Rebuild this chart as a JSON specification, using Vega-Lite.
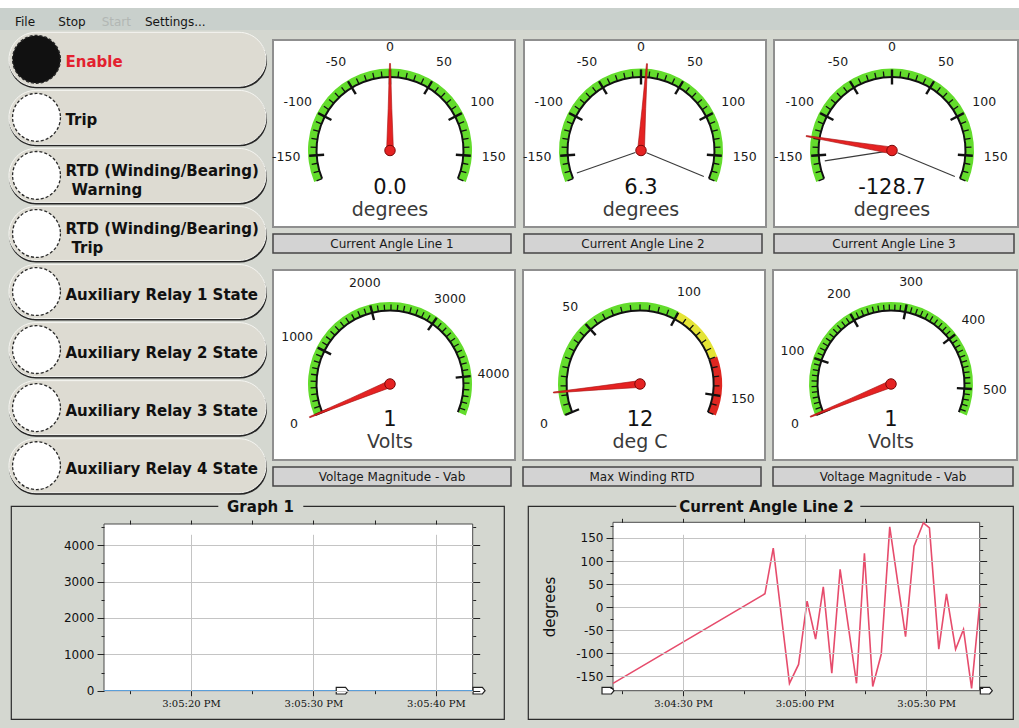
{
"$schema":"https://vega.github.io/schema/vega-lite/v6.json",
"background":"#d4d7d0",
"padding":{"left":0,"top":0,"right":0,"bottom":8},
"config":{"view":{"stroke":null},"font":"DejaVu Sans"},
"datasets":{
"buttons":[
{"id":1,"n":1,"label":"Enable","l2":"","lamp":"#111111","tc":"#e3212f"},
{"id":2,"n":1,"label":"Trip","l2":"","lamp":"#ffffff","tc":"#111111"},
{"id":3,"n":2,"label":"RTD (Winding/Bearing)","l2":"Warning","lamp":"#ffffff","tc":"#111111"},
{"id":4,"n":2,"label":"RTD (Winding/Bearing)","l2":"Trip","lamp":"#ffffff","tc":"#111111"},
{"id":5,"n":1,"label":"Auxiliary Relay 1 State","l2":"","lamp":"#ffffff","tc":"#111111"},
{"id":6,"n":1,"label":"Auxiliary Relay 2 State","l2":"","lamp":"#ffffff","tc":"#111111"},
{"id":7,"n":1,"label":"Auxiliary Relay 3 State","l2":"","lamp":"#ffffff","tc":"#111111"},
{"id":8,"n":1,"label":"Auxiliary Relay 4 State","l2":"","lamp":"#ffffff","tc":"#111111"}
],
"gauge":[
{"g":1,"k":"band","v":-180,"v2":180,"c":"#63dc2c"},
{"g":1,"k":"minor","v":[-180,-170,-160,-150,-140,-130,-120,-110,-100,-90,-80,-70,-60,-50,-40,-30,-20,-10,0,10,20,30,40,50,60,70,80,90,100,110,120,130,140,150,160,170,180]},
{"g":1,"k":"major","v":[-150,-100,-50,0,50,100,150],"t":["-150","-100","-50","0","50","100","150"]},
{"g":1,"k":"needle","v":0},
{"g":1,"k":"val","t":"0.0"},
{"g":1,"k":"unit","t":"degrees"},
{"g":2,"k":"band","v":-180,"v2":180,"c":"#63dc2c"},
{"g":2,"k":"minor","v":[-180,-170,-160,-150,-140,-130,-120,-110,-100,-90,-80,-70,-60,-50,-40,-30,-20,-10,0,10,20,30,40,50,60,70,80,90,100,110,120,130,140,150,160,170,180]},
{"g":2,"k":"major","v":[-150,-100,-50,0,50,100,150],"t":["-150","-100","-50","0","50","100","150"]},
{"g":2,"k":"mm","v":-175},
{"g":2,"k":"mm","v":180},
{"g":2,"k":"needle","v":6.3},
{"g":2,"k":"val","t":"6.3"},
{"g":2,"k":"unit","t":"degrees"},
{"g":3,"k":"band","v":-180,"v2":180,"c":"#63dc2c"},
{"g":3,"k":"minor","v":[-180,-170,-160,-150,-140,-130,-120,-110,-100,-90,-80,-70,-60,-50,-40,-30,-20,-10,0,10,20,30,40,50,60,70,80,90,100,110,120,130,140,150,160,170,180]},
{"g":3,"k":"major","v":[-150,-100,-50,0,50,100,150],"t":["-150","-100","-50","0","50","100","150"]},
{"g":3,"k":"mm","v":-158},
{"g":3,"k":"mm","v":180},
{"g":3,"k":"needle","v":-128.7},
{"g":3,"k":"val","t":"-128.7"},
{"g":3,"k":"unit","t":"degrees"},
{"g":4,"k":"band","v":0,"v2":4570,"c":"#63dc2c"},
{"g":4,"k":"minor","v":[0,100,200,300,400,500,600,700,800,900,1000,1100,1200,1300,1400,1500,1600,1700,1800,1900,2000,2100,2200,2300,2400,2500,2600,2700,2800,2900,3000,3100,3200,3300,3400,3500,3600,3700,3800,3900,4000,4100,4200,4300,4400,4500]},
{"g":4,"k":"major","v":[0,1000,2000,3000,4000],"t":["0","1000","2000","3000","4000"]},
{"g":4,"k":"needle","v":1},
{"g":4,"k":"val","t":"1"},
{"g":4,"k":"unit","t":"Volts"},
{"g":5,"k":"band","v":0,"v2":100,"c":"#63dc2c"},
{"g":5,"k":"band","v":100,"v2":130,"c":"#e4e436"},
{"g":5,"k":"band","v":130,"v2":160,"c":"#df2620"},
{"g":5,"k":"minor","v":[0,5,10,15,20,25,30,35,40,45,50,55,60,65,70,75,80,85,90,95,100,105,110,115,120,125,130,135,140,145,150,155,160]},
{"g":5,"k":"major","v":[0,50,100,150],"t":["0","50","100","150"]},
{"g":5,"k":"needle","v":12},
{"g":5,"k":"val","t":"12"},
{"g":5,"k":"unit","t":"deg C"},
{"g":6,"k":"band","v":0,"v2":546,"c":"#63dc2c"},
{"g":6,"k":"minor","v":[0,10,20,30,40,50,60,70,80,90,100,110,120,130,140,150,160,170,180,190,200,210,220,230,240,250,260,270,280,290,300,310,320,330,340,350,360,370,380,390,400,410,420,430,440,450,460,470,480,490,500,510,520,530,540]},
{"g":6,"k":"major","v":[0,100,200,300,400,500],"t":["0","100","200","300","400","500"]},
{"g":6,"k":"needle","v":1},
{"g":6,"k":"val","t":"1"},
{"g":6,"k":"unit","t":"Volts"}
],
"g1line":[
{"t":"2000-01-01T15:05:12.900","v":0},
{"t":"2000-01-01T15:05:43.400","v":0}
],
"g2line":[
{"t":"2000-01-01T15:04:12.700","v":-165},
{"t":"2000-01-01T15:04:50.200","v":29},
{"t":"2000-01-01T15:04:52.250","v":128},
{"t":"2000-01-01T15:04:56.250","v":-165},
{"t":"2000-01-01T15:04:58.500","v":-124},
{"t":"2000-01-01T15:05:00.600","v":13},
{"t":"2000-01-01T15:05:02.700","v":-69},
{"t":"2000-01-01T15:05:04.600","v":44},
{"t":"2000-01-01T15:05:06.700","v":-143},
{"t":"2000-01-01T15:05:08.750","v":82},
{"t":"2000-01-01T15:05:12.800","v":-165},
{"t":"2000-01-01T15:05:14.750","v":117},
{"t":"2000-01-01T15:05:16.800","v":-172},
{"t":"2000-01-01T15:05:18.900","v":-102},
{"t":"2000-01-01T15:05:21.000","v":174},
{"t":"2000-01-01T15:05:24.900","v":-64},
{"t":"2000-01-01T15:05:27.000","v":132},
{"t":"2000-01-01T15:05:29.300","v":183},
{"t":"2000-01-01T15:05:30.800","v":172},
{"t":"2000-01-01T15:05:33.100","v":-91},
{"t":"2000-01-01T15:05:35.000","v":29},
{"t":"2000-01-01T15:05:37.250","v":-91},
{"t":"2000-01-01T15:05:39.200","v":-48},
{"t":"2000-01-01T15:05:41.200","v":-176},
{"t":"2000-01-01T15:05:43.200","v":8}
]
},
"spacing":0,
"resolve":{"scale":{"angle":"independent","theta":"independent"}},
"vconcat":[
{"width":1019,"height":8,"view":{"fill":"#ffffff"},"data":{"values":[{}]},"mark":{"type":"point","size":0,"opacity":0},"encoding":{}},
{"width":1019,"height":22,"view":{"fill":"#c9d0cc"},
 "data":{"values":[{"m":"File","c":"#151515"},{"m":"Stop","c":"#151515"},{"m":"Start","c":"#b2b7b4"},{"m":"Settings...","c":"#151515"}]},
 "mark":{"type":"text","align":"left","baseline":"middle","fontSize":12,"yOffset":2.5},
 "encoding":{"x":{"field":"m","type":"nominal","sort":null,"axis":null,"scale":{"type":"point","range":[15,145],"padding":0}},
   "text":{"field":"m"},
   "color":{"field":"c","type":"nominal","scale":null}}},
{"spacing":0,"resolve":{"scale":{"angle":"independent","theta":"independent"}},"hconcat":[
 {"width":8,"height":1,"data":{"values":[{}]},"mark":{"type":"point","size":0,"opacity":0},"encoding":{}},
 {"width":257,"height":465,"data":{"name":"buttons"},
  "encoding":{"y":{"field":"id","type":"ordinal","axis":null,"scale":{"paddingInner":0.07,"paddingOuter":0.04}}},
  "layer":[
   {"mark":{"type":"bar","color":"#262626","cornerRadius":27,"yOffset":2,"xOffset":1}},
   {"mark":{"type":"bar","color":"#dddbd2","cornerRadius":27,"stroke":"#f6f6f2","strokeWidth":1}},
   {"mark":{"type":"point","shape":"circle","size":2290,"filled":true,"opacity":1,"stroke":"#2a2a2a","strokeWidth":1.3,"strokeDash":[3,2],"xOffset":-101},
    "encoding":{"color":{"field":"lamp","type":"nominal","scale":null}}},
   {"transform":[{"filter":"datum.n == 1"}],"mark":{"type":"text","align":"left","baseline":"middle","fontWeight":"bold","fontSize":15,"xOffset":-72,"yOffset":3},
    "encoding":{"text":{"field":"label"},"color":{"field":"tc","type":"nominal","scale":null}}},
   {"transform":[{"filter":"datum.n == 2"}],"mark":{"type":"text","align":"left","baseline":"middle","fontWeight":"bold","fontSize":15,"xOffset":-72,"yOffset":-4},
    "encoding":{"text":{"field":"label"},"color":{"field":"tc","type":"nominal","scale":null}}},
   {"transform":[{"filter":"datum.n == 2"}],"mark":{"type":"text","align":"left","baseline":"middle","fontWeight":"bold","fontSize":15,"xOffset":-66,"yOffset":14.5},
    "encoding":{"text":{"field":"l2"},"color":{"field":"tc","type":"nominal","scale":null}}}
  ]},
 {"width":4,"height":1,"data":{"values":[{}]},"mark":{"type":"point","size":0,"opacity":0},"encoding":{}},
 {"spacing":15,"resolve":{"scale":{"angle":"independent","theta":"independent"}},"vconcat":[
  {"spacing":7,"resolve":{"scale":{"angle":"independent","theta":"independent"}},"vconcat":[
   {"width":1,"height":2,"data":{"values":[{}]},"mark":{"type":"point","size":0,"opacity":0},"encoding":{}},
   {"spacing":6,"resolve":{"scale":{"angle":"independent","theta":"independent"}},"hconcat":[
    {"spacing":5,"resolve":{"scale":{"angle":"independent","theta":"independent"}},"vconcat":[
     {"width":242,"height":187,"view":{"fill":"#ffffff","stroke":"#8f8f8f","strokeWidth":2},"data":{"name":"gauge"},"transform":[{"filter":"datum.g == 1"}],
      "layer":[
       {"transform":[{"filter":"datum.k == 'band'"}],"mark":{"type":"arc","radius":82,"radius2":74,"xOffset":-4,"yOffset":17},"encoding":{"theta":{"field":"v","type":"quantitative","stack":null,"scale":{"domain":[-180,180],"range":[-1.9635,1.9635],"nice":false,"zero":false}},"theta2":{"field":"v2"},"color":{"field":"c","type":"nominal","scale":null}}},
       {"transform":[{"filter":"datum.k == 'band'"}],"mark":{"type":"arc","radius":74.5,"radius2":72.5,"color":"#111111","xOffset":-4,"yOffset":17},"encoding":{"theta":{"field":"v","type":"quantitative","stack":null,"scale":{"domain":[-180,180],"range":[-1.9635,1.9635],"nice":false,"zero":false}},"theta2":{"field":"v2"}}},
       {"transform":[{"filter":"datum.k == 'minor'"},{"flatten":["v"]}],"mark":{"type":"point","shape":"M 0 -0.735 L 0 -0.795","size":40000,"filled":false,"opacity":1,"color":"#111111","strokeWidth":1.3,"xOffset":-4,"yOffset":17},"encoding":{"angle":{"field":"v","type":"quantitative","scale":{"domain":[-180,180],"range":[-112.5,112.5],"nice":false,"zero":false}}}},
       {"transform":[{"filter":"datum.k == 'major'"},{"flatten":["v","t"]}],"mark":{"type":"point","shape":"M 0 -0.66 L 0 -0.81","size":40000,"filled":false,"opacity":1,"color":"#111111","strokeWidth":2.4,"xOffset":-4,"yOffset":17},"encoding":{"angle":{"field":"v","type":"quantitative","scale":{"domain":[-180,180],"range":[-112.5,112.5],"nice":false,"zero":false}}}},
       {"transform":[{"filter":"datum.k == 'major'"},{"flatten":["v","t"]}],"mark":{"type":"text","radius":104,"fontSize":12.5,"color":"#1a1a1a","align":"center","baseline":"middle","xOffset":-4,"yOffset":17},"encoding":{"theta":{"field":"v","type":"quantitative","stack":null,"scale":{"domain":[-180,180],"range":[-1.9635,1.9635],"nice":false,"zero":false}},"text":{"field":"t"}}},
       {"transform":[{"filter":"datum.k == 'mm'"}],"mark":{"type":"point","shape":"M 0 -0.06 L 0 -0.68","size":40000,"filled":false,"opacity":1,"color":"#3a3a3a","strokeWidth":1.1,"xOffset":-4,"yOffset":17},"encoding":{"angle":{"field":"v","type":"quantitative","scale":{"domain":[-180,180],"range":[-112.5,112.5],"nice":false,"zero":false}}}},
       {"transform":[{"filter":"datum.k == 'needle'"}],"mark":{"type":"point","shape":"M -0.035 0.02 L -0.018 -0.42 L -0.005 -0.87 L 0.005 -0.87 L 0.018 -0.42 L 0.035 0.02 Z","size":40000,"filled":true,"opacity":1,"color":"#e52222","stroke":"#a51212","strokeWidth":0.6,"xOffset":-4,"yOffset":17},"encoding":{"angle":{"field":"v","type":"quantitative","scale":{"domain":[-180,180],"range":[-112.5,112.5],"nice":false,"zero":false}}}},
       {"transform":[{"filter":"datum.k == 'needle'"}],"mark":{"type":"point","shape":"circle","size":110,"filled":true,"opacity":1,"color":"#e52222","stroke":"#7a0a0a","strokeWidth":1,"xOffset":-4,"yOffset":17},"encoding":{}},
       {"transform":[{"filter":"datum.k == 'val'"}],"mark":{"type":"text","fontSize":21,"color":"#111111","baseline":"middle","xOffset":-4,"yOffset":54},"encoding":{"text":{"field":"t"}}},
       {"transform":[{"filter":"datum.k == 'unit'"}],"mark":{"type":"text","fontSize":19,"color":"#3a3a3a","baseline":"middle","xOffset":-4,"yOffset":76},"encoding":{"text":{"field":"t"}}}
      ]},
     {"width":238,"height":19,"view":{"fill":"#d3d3d3","stroke":"#454545","strokeWidth":1.5},"data":{"values":[{"t":"Current Angle Line 1"}]},"mark":{"type":"text","fontSize":12,"color":"#1a1a1a","baseline":"middle"},"encoding":{"text":{"field":"t"}}}
    ]},
    {"spacing":5,"resolve":{"scale":{"angle":"independent","theta":"independent"}},"vconcat":[
     {"width":242,"height":187,"view":{"fill":"#ffffff","stroke":"#8f8f8f","strokeWidth":2},"data":{"name":"gauge"},"transform":[{"filter":"datum.g == 2"}],
      "layer":[
       {"transform":[{"filter":"datum.k == 'band'"}],"mark":{"type":"arc","radius":82,"radius2":74,"xOffset":-4,"yOffset":17},"encoding":{"theta":{"field":"v","type":"quantitative","stack":null,"scale":{"domain":[-180,180],"range":[-1.9635,1.9635],"nice":false,"zero":false}},"theta2":{"field":"v2"},"color":{"field":"c","type":"nominal","scale":null}}},
       {"transform":[{"filter":"datum.k == 'band'"}],"mark":{"type":"arc","radius":74.5,"radius2":72.5,"color":"#111111","xOffset":-4,"yOffset":17},"encoding":{"theta":{"field":"v","type":"quantitative","stack":null,"scale":{"domain":[-180,180],"range":[-1.9635,1.9635],"nice":false,"zero":false}},"theta2":{"field":"v2"}}},
       {"transform":[{"filter":"datum.k == 'minor'"},{"flatten":["v"]}],"mark":{"type":"point","shape":"M 0 -0.735 L 0 -0.795","size":40000,"filled":false,"opacity":1,"color":"#111111","strokeWidth":1.3,"xOffset":-4,"yOffset":17},"encoding":{"angle":{"field":"v","type":"quantitative","scale":{"domain":[-180,180],"range":[-112.5,112.5],"nice":false,"zero":false}}}},
       {"transform":[{"filter":"datum.k == 'major'"},{"flatten":["v","t"]}],"mark":{"type":"point","shape":"M 0 -0.66 L 0 -0.81","size":40000,"filled":false,"opacity":1,"color":"#111111","strokeWidth":2.4,"xOffset":-4,"yOffset":17},"encoding":{"angle":{"field":"v","type":"quantitative","scale":{"domain":[-180,180],"range":[-112.5,112.5],"nice":false,"zero":false}}}},
       {"transform":[{"filter":"datum.k == 'major'"},{"flatten":["v","t"]}],"mark":{"type":"text","radius":104,"fontSize":12.5,"color":"#1a1a1a","align":"center","baseline":"middle","xOffset":-4,"yOffset":17},"encoding":{"theta":{"field":"v","type":"quantitative","stack":null,"scale":{"domain":[-180,180],"range":[-1.9635,1.9635],"nice":false,"zero":false}},"text":{"field":"t"}}},
       {"transform":[{"filter":"datum.k == 'mm'"}],"mark":{"type":"point","shape":"M 0 -0.06 L 0 -0.68","size":40000,"filled":false,"opacity":1,"color":"#3a3a3a","strokeWidth":1.1,"xOffset":-4,"yOffset":17},"encoding":{"angle":{"field":"v","type":"quantitative","scale":{"domain":[-180,180],"range":[-112.5,112.5],"nice":false,"zero":false}}}},
       {"transform":[{"filter":"datum.k == 'needle'"}],"mark":{"type":"point","shape":"M -0.035 0.02 L -0.018 -0.42 L -0.005 -0.87 L 0.005 -0.87 L 0.018 -0.42 L 0.035 0.02 Z","size":40000,"filled":true,"opacity":1,"color":"#e52222","stroke":"#a51212","strokeWidth":0.6,"xOffset":-4,"yOffset":17},"encoding":{"angle":{"field":"v","type":"quantitative","scale":{"domain":[-180,180],"range":[-112.5,112.5],"nice":false,"zero":false}}}},
       {"transform":[{"filter":"datum.k == 'needle'"}],"mark":{"type":"point","shape":"circle","size":110,"filled":true,"opacity":1,"color":"#e52222","stroke":"#7a0a0a","strokeWidth":1,"xOffset":-4,"yOffset":17},"encoding":{}},
       {"transform":[{"filter":"datum.k == 'val'"}],"mark":{"type":"text","fontSize":21,"color":"#111111","baseline":"middle","xOffset":-4,"yOffset":54},"encoding":{"text":{"field":"t"}}},
       {"transform":[{"filter":"datum.k == 'unit'"}],"mark":{"type":"text","fontSize":19,"color":"#3a3a3a","baseline":"middle","xOffset":-4,"yOffset":76},"encoding":{"text":{"field":"t"}}}
      ]},
     {"width":238,"height":19,"view":{"fill":"#d3d3d3","stroke":"#454545","strokeWidth":1.5},"data":{"values":[{"t":"Current Angle Line 2"}]},"mark":{"type":"text","fontSize":12,"color":"#1a1a1a","baseline":"middle"},"encoding":{"text":{"field":"t"}}}
    ]},
    {"spacing":5,"resolve":{"scale":{"angle":"independent","theta":"independent"}},"vconcat":[
     {"width":244,"height":187,"view":{"fill":"#ffffff","stroke":"#8f8f8f","strokeWidth":2},"data":{"name":"gauge"},"transform":[{"filter":"datum.g == 3"}],
      "layer":[
       {"transform":[{"filter":"datum.k == 'band'"}],"mark":{"type":"arc","radius":82,"radius2":74,"xOffset":-4,"yOffset":17},"encoding":{"theta":{"field":"v","type":"quantitative","stack":null,"scale":{"domain":[-180,180],"range":[-1.9635,1.9635],"nice":false,"zero":false}},"theta2":{"field":"v2"},"color":{"field":"c","type":"nominal","scale":null}}},
       {"transform":[{"filter":"datum.k == 'band'"}],"mark":{"type":"arc","radius":74.5,"radius2":72.5,"color":"#111111","xOffset":-4,"yOffset":17},"encoding":{"theta":{"field":"v","type":"quantitative","stack":null,"scale":{"domain":[-180,180],"range":[-1.9635,1.9635],"nice":false,"zero":false}},"theta2":{"field":"v2"}}},
       {"transform":[{"filter":"datum.k == 'minor'"},{"flatten":["v"]}],"mark":{"type":"point","shape":"M 0 -0.735 L 0 -0.795","size":40000,"filled":false,"opacity":1,"color":"#111111","strokeWidth":1.3,"xOffset":-4,"yOffset":17},"encoding":{"angle":{"field":"v","type":"quantitative","scale":{"domain":[-180,180],"range":[-112.5,112.5],"nice":false,"zero":false}}}},
       {"transform":[{"filter":"datum.k == 'major'"},{"flatten":["v","t"]}],"mark":{"type":"point","shape":"M 0 -0.66 L 0 -0.81","size":40000,"filled":false,"opacity":1,"color":"#111111","strokeWidth":2.4,"xOffset":-4,"yOffset":17},"encoding":{"angle":{"field":"v","type":"quantitative","scale":{"domain":[-180,180],"range":[-112.5,112.5],"nice":false,"zero":false}}}},
       {"transform":[{"filter":"datum.k == 'major'"},{"flatten":["v","t"]}],"mark":{"type":"text","radius":104,"fontSize":12.5,"color":"#1a1a1a","align":"center","baseline":"middle","xOffset":-4,"yOffset":17},"encoding":{"theta":{"field":"v","type":"quantitative","stack":null,"scale":{"domain":[-180,180],"range":[-1.9635,1.9635],"nice":false,"zero":false}},"text":{"field":"t"}}},
       {"transform":[{"filter":"datum.k == 'mm'"}],"mark":{"type":"point","shape":"M 0 -0.06 L 0 -0.68","size":40000,"filled":false,"opacity":1,"color":"#3a3a3a","strokeWidth":1.1,"xOffset":-4,"yOffset":17},"encoding":{"angle":{"field":"v","type":"quantitative","scale":{"domain":[-180,180],"range":[-112.5,112.5],"nice":false,"zero":false}}}},
       {"transform":[{"filter":"datum.k == 'needle'"}],"mark":{"type":"point","shape":"M -0.035 0.02 L -0.018 -0.42 L -0.005 -0.87 L 0.005 -0.87 L 0.018 -0.42 L 0.035 0.02 Z","size":40000,"filled":true,"opacity":1,"color":"#e52222","stroke":"#a51212","strokeWidth":0.6,"xOffset":-4,"yOffset":17},"encoding":{"angle":{"field":"v","type":"quantitative","scale":{"domain":[-180,180],"range":[-112.5,112.5],"nice":false,"zero":false}}}},
       {"transform":[{"filter":"datum.k == 'needle'"}],"mark":{"type":"point","shape":"circle","size":110,"filled":true,"opacity":1,"color":"#e52222","stroke":"#7a0a0a","strokeWidth":1,"xOffset":-4,"yOffset":17},"encoding":{}},
       {"transform":[{"filter":"datum.k == 'val'"}],"mark":{"type":"text","fontSize":21,"color":"#111111","baseline":"middle","xOffset":-4,"yOffset":54},"encoding":{"text":{"field":"t"}}},
       {"transform":[{"filter":"datum.k == 'unit'"}],"mark":{"type":"text","fontSize":19,"color":"#3a3a3a","baseline":"middle","xOffset":-4,"yOffset":76},"encoding":{"text":{"field":"t"}}}
      ]},
     {"width":240,"height":19,"view":{"fill":"#d3d3d3","stroke":"#454545","strokeWidth":1.5},"data":{"values":[{"t":"Current Angle Line 3"}]},"mark":{"type":"text","fontSize":12,"color":"#1a1a1a","baseline":"middle"},"encoding":{"text":{"field":"t"}}}
    ]}
   ]}
  ]},
  {"spacing":6,"resolve":{"scale":{"angle":"independent","theta":"independent"}},"hconcat":[
   {"spacing":5,"resolve":{"scale":{"angle":"independent","theta":"independent"}},"vconcat":[
    {"width":242,"height":190,"view":{"fill":"#ffffff","stroke":"#8f8f8f","strokeWidth":2},"data":{"name":"gauge"},"transform":[{"filter":"datum.g == 4"}],
     "layer":[
      {"transform":[{"filter":"datum.k == 'band'"}],"mark":{"type":"arc","radius":82,"radius2":74,"xOffset":-4,"yOffset":19},"encoding":{"theta":{"field":"v","type":"quantitative","stack":null,"scale":{"domain":[0,4570],"range":[-1.9635,1.9635],"nice":false,"zero":false}},"theta2":{"field":"v2"},"color":{"field":"c","type":"nominal","scale":null}}},
      {"transform":[{"filter":"datum.k == 'band'"}],"mark":{"type":"arc","radius":74.5,"radius2":72.5,"color":"#111111","xOffset":-4,"yOffset":19},"encoding":{"theta":{"field":"v","type":"quantitative","stack":null,"scale":{"domain":[0,4570],"range":[-1.9635,1.9635],"nice":false,"zero":false}},"theta2":{"field":"v2"}}},
      {"transform":[{"filter":"datum.k == 'minor'"},{"flatten":["v"]}],"mark":{"type":"point","shape":"M 0 -0.735 L 0 -0.795","size":40000,"filled":false,"opacity":1,"color":"#111111","strokeWidth":1.3,"xOffset":-4,"yOffset":19},"encoding":{"angle":{"field":"v","type":"quantitative","scale":{"domain":[0,4570],"range":[-112.5,112.5],"nice":false,"zero":false}}}},
      {"transform":[{"filter":"datum.k == 'major'"},{"flatten":["v","t"]}],"mark":{"type":"point","shape":"M 0 -0.66 L 0 -0.81","size":40000,"filled":false,"opacity":1,"color":"#111111","strokeWidth":2.4,"xOffset":-4,"yOffset":19},"encoding":{"angle":{"field":"v","type":"quantitative","scale":{"domain":[0,4570],"range":[-112.5,112.5],"nice":false,"zero":false}}}},
      {"transform":[{"filter":"datum.k == 'major'"},{"flatten":["v","t"]}],"mark":{"type":"text","radius":104,"fontSize":12.5,"color":"#1a1a1a","align":"center","baseline":"middle","xOffset":-4,"yOffset":19},"encoding":{"theta":{"field":"v","type":"quantitative","stack":null,"scale":{"domain":[0,4570],"range":[-1.9635,1.9635],"nice":false,"zero":false}},"text":{"field":"t"}}},
      {"transform":[{"filter":"datum.k == 'needle'"}],"mark":{"type":"point","shape":"M -0.035 0.02 L -0.018 -0.42 L -0.005 -0.87 L 0.005 -0.87 L 0.018 -0.42 L 0.035 0.02 Z","size":40000,"filled":true,"opacity":1,"color":"#e52222","stroke":"#a51212","strokeWidth":0.6,"xOffset":-4,"yOffset":19},"encoding":{"angle":{"field":"v","type":"quantitative","scale":{"domain":[0,4570],"range":[-112.5,112.5],"nice":false,"zero":false}}}},
      {"transform":[{"filter":"datum.k == 'needle'"}],"mark":{"type":"point","shape":"circle","size":110,"filled":true,"opacity":1,"color":"#e52222","stroke":"#7a0a0a","strokeWidth":1,"xOffset":-4,"yOffset":19},"encoding":{}},
      {"transform":[{"filter":"datum.k == 'val'"}],"mark":{"type":"text","fontSize":21,"color":"#111111","baseline":"middle","xOffset":-4,"yOffset":55},"encoding":{"text":{"field":"t"}}},
      {"transform":[{"filter":"datum.k == 'unit'"}],"mark":{"type":"text","fontSize":19,"color":"#3a3a3a","baseline":"middle","xOffset":-4,"yOffset":77},"encoding":{"text":{"field":"t"}}}
     ]},
    {"width":238,"height":19,"view":{"fill":"#d3d3d3","stroke":"#454545","strokeWidth":1.5},"data":{"values":[{"t":"Voltage Magnitude - Vab"}]},"mark":{"type":"text","fontSize":12,"color":"#1a1a1a","baseline":"middle"},"encoding":{"text":{"field":"t"}}}
   ]},
   {"spacing":5,"resolve":{"scale":{"angle":"independent","theta":"independent"}},"vconcat":[
    {"width":242,"height":190,"view":{"fill":"#ffffff","stroke":"#8f8f8f","strokeWidth":2},"data":{"name":"gauge"},"transform":[{"filter":"datum.g == 5"}],
     "layer":[
      {"transform":[{"filter":"datum.k == 'band'"}],"mark":{"type":"arc","radius":82,"radius2":74,"xOffset":-4,"yOffset":19},"encoding":{"theta":{"field":"v","type":"quantitative","stack":null,"scale":{"domain":[0,160],"range":[-1.9635,1.9635],"nice":false,"zero":false}},"theta2":{"field":"v2"},"color":{"field":"c","type":"nominal","scale":null}}},
      {"transform":[{"filter":"datum.k == 'band'"}],"mark":{"type":"arc","radius":74.5,"radius2":72.5,"color":"#111111","xOffset":-4,"yOffset":19},"encoding":{"theta":{"field":"v","type":"quantitative","stack":null,"scale":{"domain":[0,160],"range":[-1.9635,1.9635],"nice":false,"zero":false}},"theta2":{"field":"v2"}}},
      {"transform":[{"filter":"datum.k == 'minor'"},{"flatten":["v"]}],"mark":{"type":"point","shape":"M 0 -0.735 L 0 -0.795","size":40000,"filled":false,"opacity":1,"color":"#111111","strokeWidth":1.3,"xOffset":-4,"yOffset":19},"encoding":{"angle":{"field":"v","type":"quantitative","scale":{"domain":[0,160],"range":[-112.5,112.5],"nice":false,"zero":false}}}},
      {"transform":[{"filter":"datum.k == 'major'"},{"flatten":["v","t"]}],"mark":{"type":"point","shape":"M 0 -0.66 L 0 -0.81","size":40000,"filled":false,"opacity":1,"color":"#111111","strokeWidth":2.4,"xOffset":-4,"yOffset":19},"encoding":{"angle":{"field":"v","type":"quantitative","scale":{"domain":[0,160],"range":[-112.5,112.5],"nice":false,"zero":false}}}},
      {"transform":[{"filter":"datum.k == 'major'"},{"flatten":["v","t"]}],"mark":{"type":"text","radius":104,"fontSize":12.5,"color":"#1a1a1a","align":"center","baseline":"middle","xOffset":-4,"yOffset":19},"encoding":{"theta":{"field":"v","type":"quantitative","stack":null,"scale":{"domain":[0,160],"range":[-1.9635,1.9635],"nice":false,"zero":false}},"text":{"field":"t"}}},
      {"transform":[{"filter":"datum.k == 'needle'"}],"mark":{"type":"point","shape":"M -0.035 0.02 L -0.018 -0.42 L -0.005 -0.87 L 0.005 -0.87 L 0.018 -0.42 L 0.035 0.02 Z","size":40000,"filled":true,"opacity":1,"color":"#e52222","stroke":"#a51212","strokeWidth":0.6,"xOffset":-4,"yOffset":19},"encoding":{"angle":{"field":"v","type":"quantitative","scale":{"domain":[0,160],"range":[-112.5,112.5],"nice":false,"zero":false}}}},
      {"transform":[{"filter":"datum.k == 'needle'"}],"mark":{"type":"point","shape":"circle","size":110,"filled":true,"opacity":1,"color":"#e52222","stroke":"#7a0a0a","strokeWidth":1,"xOffset":-4,"yOffset":19},"encoding":{}},
      {"transform":[{"filter":"datum.k == 'val'"}],"mark":{"type":"text","fontSize":21,"color":"#111111","baseline":"middle","xOffset":-4,"yOffset":55},"encoding":{"text":{"field":"t"}}},
      {"transform":[{"filter":"datum.k == 'unit'"}],"mark":{"type":"text","fontSize":19,"color":"#3a3a3a","baseline":"middle","xOffset":-4,"yOffset":77},"encoding":{"text":{"field":"t"}}}
     ]},
    {"width":238,"height":19,"view":{"fill":"#d3d3d3","stroke":"#454545","strokeWidth":1.5},"data":{"values":[{"t":"Max Winding RTD"}]},"mark":{"type":"text","fontSize":12,"color":"#1a1a1a","baseline":"middle"},"encoding":{"text":{"field":"t"}}}
   ]},
   {"spacing":5,"resolve":{"scale":{"angle":"independent","theta":"independent"}},"vconcat":[
    {"width":244,"height":190,"view":{"fill":"#ffffff","stroke":"#8f8f8f","strokeWidth":2},"data":{"name":"gauge"},"transform":[{"filter":"datum.g == 6"}],
     "layer":[
      {"transform":[{"filter":"datum.k == 'band'"}],"mark":{"type":"arc","radius":82,"radius2":74,"xOffset":-4,"yOffset":19},"encoding":{"theta":{"field":"v","type":"quantitative","stack":null,"scale":{"domain":[0,546],"range":[-1.9635,1.9635],"nice":false,"zero":false}},"theta2":{"field":"v2"},"color":{"field":"c","type":"nominal","scale":null}}},
      {"transform":[{"filter":"datum.k == 'band'"}],"mark":{"type":"arc","radius":74.5,"radius2":72.5,"color":"#111111","xOffset":-4,"yOffset":19},"encoding":{"theta":{"field":"v","type":"quantitative","stack":null,"scale":{"domain":[0,546],"range":[-1.9635,1.9635],"nice":false,"zero":false}},"theta2":{"field":"v2"}}},
      {"transform":[{"filter":"datum.k == 'minor'"},{"flatten":["v"]}],"mark":{"type":"point","shape":"M 0 -0.735 L 0 -0.795","size":40000,"filled":false,"opacity":1,"color":"#111111","strokeWidth":1.3,"xOffset":-4,"yOffset":19},"encoding":{"angle":{"field":"v","type":"quantitative","scale":{"domain":[0,546],"range":[-112.5,112.5],"nice":false,"zero":false}}}},
      {"transform":[{"filter":"datum.k == 'major'"},{"flatten":["v","t"]}],"mark":{"type":"point","shape":"M 0 -0.66 L 0 -0.81","size":40000,"filled":false,"opacity":1,"color":"#111111","strokeWidth":2.4,"xOffset":-4,"yOffset":19},"encoding":{"angle":{"field":"v","type":"quantitative","scale":{"domain":[0,546],"range":[-112.5,112.5],"nice":false,"zero":false}}}},
      {"transform":[{"filter":"datum.k == 'major'"},{"flatten":["v","t"]}],"mark":{"type":"text","radius":104,"fontSize":12.5,"color":"#1a1a1a","align":"center","baseline":"middle","xOffset":-4,"yOffset":19},"encoding":{"theta":{"field":"v","type":"quantitative","stack":null,"scale":{"domain":[0,546],"range":[-1.9635,1.9635],"nice":false,"zero":false}},"text":{"field":"t"}}},
      {"transform":[{"filter":"datum.k == 'needle'"}],"mark":{"type":"point","shape":"M -0.035 0.02 L -0.018 -0.42 L -0.005 -0.87 L 0.005 -0.87 L 0.018 -0.42 L 0.035 0.02 Z","size":40000,"filled":true,"opacity":1,"color":"#e52222","stroke":"#a51212","strokeWidth":0.6,"xOffset":-4,"yOffset":19},"encoding":{"angle":{"field":"v","type":"quantitative","scale":{"domain":[0,546],"range":[-112.5,112.5],"nice":false,"zero":false}}}},
      {"transform":[{"filter":"datum.k == 'needle'"}],"mark":{"type":"point","shape":"circle","size":110,"filled":true,"opacity":1,"color":"#e52222","stroke":"#7a0a0a","strokeWidth":1,"xOffset":-4,"yOffset":19},"encoding":{}},
      {"transform":[{"filter":"datum.k == 'val'"}],"mark":{"type":"text","fontSize":21,"color":"#111111","baseline":"middle","xOffset":-4,"yOffset":55},"encoding":{"text":{"field":"t"}}},
      {"transform":[{"filter":"datum.k == 'unit'"}],"mark":{"type":"text","fontSize":19,"color":"#3a3a3a","baseline":"middle","xOffset":-4,"yOffset":77},"encoding":{"text":{"field":"t"}}}
     ]},
    {"width":240,"height":19,"view":{"fill":"#d3d3d3","stroke":"#454545","strokeWidth":1.5},"data":{"values":[{"t":"Voltage Magnitude - Vab"}]},"mark":{"type":"text","fontSize":12,"color":"#1a1a1a","baseline":"middle"},"encoding":{"text":{"field":"t"}}}
   ]}
  ]}
 ]}
]},
{"width":1,"height":4,"data":{"values":[{}]},"mark":{"type":"point","size":0,"opacity":0},"encoding":{}},
{"spacing":0,"hconcat":[
 {"width":10,"height":1,"data":{"values":[{}]},"mark":{"type":"point","size":0,"opacity":0},"encoding":{}},
 {"width":493,"height":213,
  "title":{"text":"Graph 1","fontSize":15,"fontWeight":"bold","color":"#111111","anchor":"middle","frame":"group","offset":-9,"dx":3},
  "view":{"stroke":"#2b2b2b","strokeWidth":1.2,"strokeDash":[207,85,3000,0]},
  "resolve":{"axis":{"x":"independent","y":"independent"}},
  "layer":[
   {"data":{"values":[{}]},"mark":{"type":"rect","fill":"#ffffff","stroke":"#4a4a4a","strokeWidth":1},
    "encoding":{
     "x":{"datum":{"year":2000,"month":1,"date":1,"hours":15,"minutes":5,"seconds":12,"milliseconds":900},"type":"temporal",
      "scale":{"domain":[{"year":2000,"month":1,"date":1,"hours":15,"minutes":5,"seconds":12,"milliseconds":900},{"year":2000,"month":1,"date":1,"hours":15,"minutes":5,"seconds":43}],"range":[93,461.7],"nice":false},
      "axis":{"orient":"bottom","offset":-28.3,"title":null,"domain":false,"zindex":1,
       "values":[{"year":2000,"month":1,"date":1,"hours":15,"minutes":5,"seconds":15},{"year":2000,"month":1,"date":1,"hours":15,"minutes":5,"seconds":20},{"year":2000,"month":1,"date":1,"hours":15,"minutes":5,"seconds":25},{"year":2000,"month":1,"date":1,"hours":15,"minutes":5,"seconds":30},{"year":2000,"month":1,"date":1,"hours":15,"minutes":5,"seconds":35},{"year":2000,"month":1,"date":1,"hours":15,"minutes":5,"seconds":40}],
       "labelExpr":"seconds(datum.value) % 10 == 0 ? timeFormat(datum.value, '%-I:%M:%S %p') : ''",
       "labelFont":"DejaVu Serif","labelFontSize":10,"labelColor":"#111111","labelPadding":3,"labelOverlap":false,"labelFlush":false,
       "tickColor":"#222222","tickSize":{"condition":{"test":"seconds(datum.value) % 10 == 0","value":5},"value":3},
       "grid":true,"gridColor":"#c4c4c4","gridOpacity":{"condition":{"test":"seconds(datum.value) % 10 == 0","value":1},"value":0}}},
     "x2":{"datum":{"year":2000,"month":1,"date":1,"hours":15,"minutes":5,"seconds":43}},
     "y":{"datum":0,"type":"quantitative","scale":{"domain":[0,4580],"range":[184.7,18],"nice":false,"zero":false},
      "axis":{"orient":"left","offset":-93,"title":null,"domain":false,"zindex":1,
       "values":[0,500,1000,1500,2000,2500,3000,3500,4000,4500],
       "labelExpr":"datum.value % 1000 == 0 ? '' + datum.value : ''",
       "labelFontSize":12,"labelColor":"#111111","labelPadding":3,"labelOverlap":false,
       "tickColor":"#222222","tickSize":{"condition":{"test":"datum.value % 1000 == 0","value":7},"value":3},
       "grid":true,"gridColor":"#c4c4c4","gridOpacity":{"condition":{"test":"datum.value % 1000 == 0","value":1},"value":0}}},
     "y2":{"datum":4580}}},
   {"data":{"name":"g1line"},"mark":{"type":"line","color":"#5b9fd8","strokeWidth":1.6},
    "encoding":{"x":{"field":"t","type":"temporal","axis":null,"scale":{"domain":[{"year":2000,"month":1,"date":1,"hours":15,"minutes":5,"seconds":12,"milliseconds":900},{"year":2000,"month":1,"date":1,"hours":15,"minutes":5,"seconds":43}],"range":[93,461.7],"nice":false}},
     "y":{"field":"v","type":"quantitative","axis":null,"scale":{"domain":[0,4580],"range":[184.7,18],"nice":false,"zero":false}}}},
   {"data":{"values":[{"t":"2000-01-01T15:05:32.350","v":0},{"t":"2000-01-01T15:05:43.520","v":0}]},
    "mark":{"type":"point","shape":"M -1 -0.55 L 0.55 -0.55 L 1 0 L 0.55 0.55 L -1 0.55 Z","size":144,"filled":true,"opacity":1,"color":"#ffffff","stroke":"#222222","strokeWidth":1.2},
    "encoding":{"x":{"field":"t","type":"temporal","axis":null,"scale":{"domain":[{"year":2000,"month":1,"date":1,"hours":15,"minutes":5,"seconds":12,"milliseconds":900},{"year":2000,"month":1,"date":1,"hours":15,"minutes":5,"seconds":43}],"range":[93,461.7],"nice":false}},
     "y":{"field":"v","type":"quantitative","axis":null,"scale":{"domain":[0,4580],"range":[184.7,18],"nice":false,"zero":false}}}},
   {"data":{"values":[{}]},"mark":{"type":"point","opacity":0,"size":0},
    "encoding":{
     "x":{"datum":{"year":2000,"month":1,"date":1,"hours":15,"minutes":5,"seconds":20},"type":"temporal",
      "scale":{"domain":[{"year":2000,"month":1,"date":1,"hours":15,"minutes":5,"seconds":12,"milliseconds":900},{"year":2000,"month":1,"date":1,"hours":15,"minutes":5,"seconds":43}],"range":[93,461.7],"nice":false},
      "axis":{"orient":"top","offset":-18,"title":null,"domain":false,"labels":false,"grid":false,"zindex":1,"tickColor":"#222222","tickSize":4,
       "values":[{"year":2000,"month":1,"date":1,"hours":15,"minutes":5,"seconds":15},{"year":2000,"month":1,"date":1,"hours":15,"minutes":5,"seconds":20},{"year":2000,"month":1,"date":1,"hours":15,"minutes":5,"seconds":25},{"year":2000,"month":1,"date":1,"hours":15,"minutes":5,"seconds":30},{"year":2000,"month":1,"date":1,"hours":15,"minutes":5,"seconds":35},{"year":2000,"month":1,"date":1,"hours":15,"minutes":5,"seconds":40}]}},
     "y":{"datum":1000,"type":"quantitative","scale":{"domain":[0,4580],"range":[184.7,18],"nice":false,"zero":false},
      "axis":{"orient":"right","offset":-31.3,"title":null,"domain":false,"labels":false,"grid":false,"zindex":1,"tickColor":"#222222",
       "values":[0,500,1000,1500,2000,2500,3000,3500,4000,4500],
       "tickSize":{"condition":{"test":"datum.value % 1000 == 0","value":7},"value":3}}}}}
  ]},
 {"width":22,"height":1,"data":{"values":[{}]},"mark":{"type":"point","size":0,"opacity":0},"encoding":{}},
 {"width":485,"height":213,
  "title":{"text":"Current Angle Line 2","fontSize":15,"fontWeight":"bold","color":"#111111","anchor":"middle","frame":"group","offset":-9,"dx":-4},
  "view":{"stroke":"#2b2b2b","strokeWidth":1.2,"strokeDash":[148,184,3000,0]},
  "resolve":{"axis":{"x":"independent","y":"independent"}},
  "layer":[
   {"data":{"values":[{}]},"mark":{"type":"rect","fill":"#ffffff","stroke":"#4a4a4a","strokeWidth":1},
    "encoding":{
     "x":{"datum":{"year":2000,"month":1,"date":1,"hours":15,"minutes":4,"seconds":12,"milliseconds":700},"type":"temporal",
      "scale":{"domain":[{"year":2000,"month":1,"date":1,"hours":15,"minutes":4,"seconds":12,"milliseconds":700},{"year":2000,"month":1,"date":1,"hours":15,"minutes":5,"seconds":43,"milliseconds":200}],"range":[85,451.7],"nice":false},
      "axis":{"orient":"bottom","offset":-28.3,"title":null,"domain":false,"zindex":1,
       "values":[{"year":2000,"month":1,"date":1,"hours":15,"minutes":4,"seconds":15},{"year":2000,"month":1,"date":1,"hours":15,"minutes":4,"seconds":30},{"year":2000,"month":1,"date":1,"hours":15,"minutes":4,"seconds":45},{"year":2000,"month":1,"date":1,"hours":15,"minutes":5,"seconds":0},{"year":2000,"month":1,"date":1,"hours":15,"minutes":5,"seconds":15},{"year":2000,"month":1,"date":1,"hours":15,"minutes":5,"seconds":30}],
       "labelExpr":"seconds(datum.value) % 30 == 0 ? timeFormat(datum.value, '%-I:%M:%S %p') : ''",
       "labelFont":"DejaVu Serif","labelFontSize":10,"labelColor":"#111111","labelPadding":3,"labelOverlap":false,"labelFlush":false,
       "tickColor":"#222222","tickSize":{"condition":{"test":"seconds(datum.value) % 30 == 0","value":5},"value":3},
       "grid":true,"gridColor":"#c4c4c4","gridOpacity":{"condition":{"test":"seconds(datum.value) % 30 == 0","value":1},"value":0}}},
     "x2":{"datum":{"year":2000,"month":1,"date":1,"hours":15,"minutes":5,"seconds":43,"milliseconds":200}},
     "y":{"datum":-181,"type":"quantitative","scale":{"domain":[-181,184],"range":[184.7,16.3],"nice":false,"zero":false},
      "axis":{"orient":"left","offset":-85,"title":"degrees","titleFontSize":15,"titleFontWeight":"normal","titleColor":"#111111","titlePadding":18,"domain":false,"zindex":1,
       "values":[-175,-150,-125,-100,-75,-50,-25,0,25,50,75,100,125,150,175],
       "labelExpr":"datum.value % 50 == 0 ? '' + datum.value : ''",
       "labelFontSize":12,"labelColor":"#111111","labelPadding":3,"labelOverlap":false,
       "tickColor":"#222222","tickSize":{"condition":{"test":"datum.value % 50 == 0","value":7},"value":3},
       "grid":true,"gridColor":"#c4c4c4","gridOpacity":{"condition":{"test":"datum.value % 50 == 0","value":1},"value":0}}},
     "y2":{"datum":184}}},
   {"data":{"name":"g2line"},"mark":{"type":"line","color":"#e64c6c","strokeWidth":1.6},
    "encoding":{"x":{"field":"t","type":"temporal","axis":null,"scale":{"domain":[{"year":2000,"month":1,"date":1,"hours":15,"minutes":4,"seconds":12,"milliseconds":700},{"year":2000,"month":1,"date":1,"hours":15,"minutes":5,"seconds":43,"milliseconds":200}],"range":[85,451.7],"nice":false}},
     "y":{"field":"v","type":"quantitative","axis":null,"scale":{"domain":[-181,184],"range":[184.7,16.3],"nice":false,"zero":false}}}},
   {"data":{"values":[{"t":"2000-01-01T15:04:11.470","v":-181},{"t":"2000-01-01T15:05:44.830","v":-181}]},
    "mark":{"type":"point","shape":"M -1 -0.55 L 0.55 -0.55 L 1 0 L 0.55 0.55 L -1 0.55 Z","size":144,"filled":true,"opacity":1,"color":"#ffffff","stroke":"#222222","strokeWidth":1.2},
    "encoding":{"x":{"field":"t","type":"temporal","axis":null,"scale":{"domain":[{"year":2000,"month":1,"date":1,"hours":15,"minutes":4,"seconds":12,"milliseconds":700},{"year":2000,"month":1,"date":1,"hours":15,"minutes":5,"seconds":43,"milliseconds":200}],"range":[85,451.7],"nice":false}},
     "y":{"field":"v","type":"quantitative","axis":null,"scale":{"domain":[-181,184],"range":[184.7,16.3],"nice":false,"zero":false}}}},
   {"data":{"values":[{}]},"mark":{"type":"point","opacity":0,"size":0},
    "encoding":{
     "x":{"datum":{"year":2000,"month":1,"date":1,"hours":15,"minutes":5,"seconds":0},"type":"temporal",
      "scale":{"domain":[{"year":2000,"month":1,"date":1,"hours":15,"minutes":4,"seconds":12,"milliseconds":700},{"year":2000,"month":1,"date":1,"hours":15,"minutes":5,"seconds":43,"milliseconds":200}],"range":[85,451.7],"nice":false},
      "axis":{"orient":"top","offset":-16.3,"title":null,"domain":false,"labels":false,"grid":false,"zindex":1,"tickColor":"#222222","tickSize":4,
       "values":[{"year":2000,"month":1,"date":1,"hours":15,"minutes":4,"seconds":15},{"year":2000,"month":1,"date":1,"hours":15,"minutes":4,"seconds":30},{"year":2000,"month":1,"date":1,"hours":15,"minutes":4,"seconds":45},{"year":2000,"month":1,"date":1,"hours":15,"minutes":5,"seconds":0},{"year":2000,"month":1,"date":1,"hours":15,"minutes":5,"seconds":15},{"year":2000,"month":1,"date":1,"hours":15,"minutes":5,"seconds":30}]}},
     "y":{"datum":0,"type":"quantitative","scale":{"domain":[-181,184],"range":[184.7,16.3],"nice":false,"zero":false},
      "axis":{"orient":"right","offset":-33.3,"title":null,"domain":false,"labels":false,"grid":false,"zindex":1,"tickColor":"#222222",
       "values":[-175,-150,-125,-100,-75,-50,-25,0,25,50,75,100,125,150,175],
       "tickSize":{"condition":{"test":"datum.value % 50 == 0","value":7},"value":3}}}}}
  ]}
]}
]
}
